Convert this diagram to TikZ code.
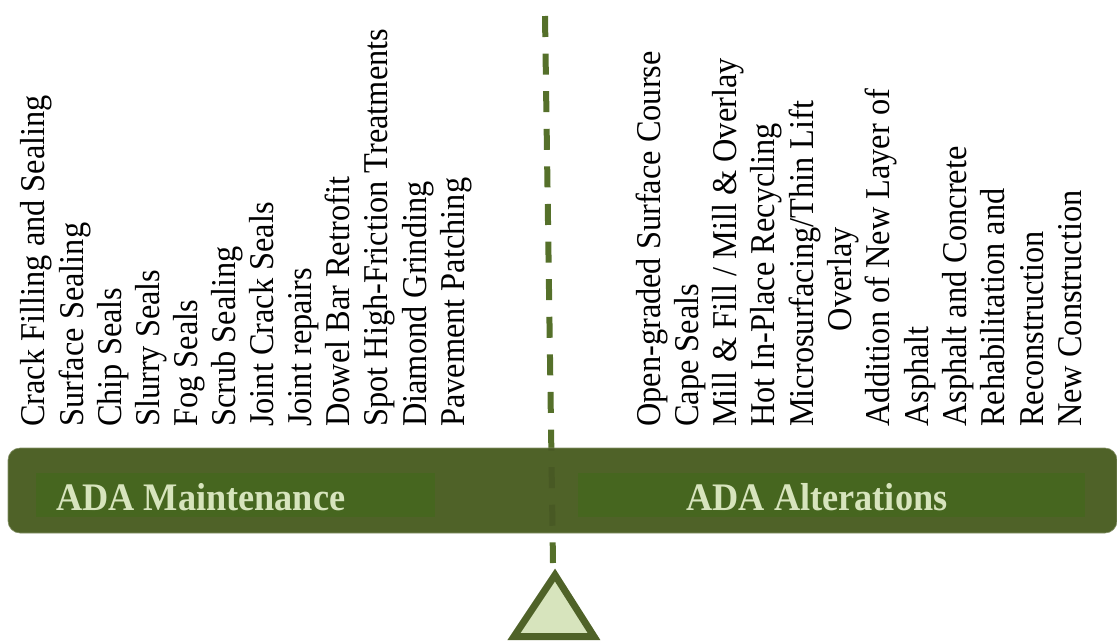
\documentclass[tikz,border=0pt]{standalone}
\usepackage{fontspec}
\setmainfont{Liberation Serif}[FakeStretch=0.93]
\definecolor{barcol}{HTML}{4F6228}
\definecolor{innercol}{HTML}{46661F}
\definecolor{lightcol}{HTML}{D7E4BD}
\definecolor{dashcol}{HTML}{55702A}
\tikzset{
  item/.style={rotate=90, anchor=base west, inner sep=0pt, font=\fontsize{34.8}{40}\selectfont, text=black},
  label/.style={inner sep=0pt, text=lightcol, font=\fontsize{39}{46}\selectfont\bfseries},
}
\begin{document}
\begin{tikzpicture}[x=1pt,y=-1pt]
\useasboundingbox (0,0) rectangle (1117,643);
% dashed line
\coordinate (dtop) at (545,16);
\coordinate (dbot) at (553,563);
\draw[dashcol, line width=6pt, dash pattern=on 21pt off 16.6pt] (dtop) -- (dbot);
% bar
\draw[fill=barcol, draw=barcol!70!white, line width=0.6pt, rounded corners=12pt] (8,448) rectangle (1117,533);
\fill[innercol] (36,473) rectangle (435,517);
\fill[innercol] (578,473) rectangle (1085,517);
\begin{scope}
\clip (8,448) rectangle (1117,533);
\draw[barcol!75!black, opacity=0.35, line width=6pt, dash pattern=on 21pt off 16.6pt] (dtop) -- (dbot);
\end{scope}
\node[label, anchor=base west] (maint) at (56,510) {ADA Maintenance};
\node[label, anchor=base] (alter) at (817,510) {ADA Alterations};
% triangle
\draw[line width=7pt, draw=barcol, fill=lightcol, line join=miter] (555,575) -- (594,636.5) -- (514,636.5) -- cycle;
% left items
\foreach \t [count=\i from 0] in {Crack Filling and Sealing, Surface Sealing, Chip Seals, Slurry Seals, Fog Seals, Scrub Sealing, Joint Crack Seals, Joint repairs, Dowel Bar Retrofit, Spot High-Friction Treatments, Diamond Grinding, Pavement Patching}
  \node[item] (L\i) at ({45+38.1*\i},427) {\t};
% right items
\foreach \t [count=\i from 0] in {Open-graded Surface Course, Cape Seals, Mill \& Fill / Mill \& Overlay, Hot In-Place Recycling, Microsurfacing/Thin Lift, {}, Addition of New Layer of, Asphalt, Asphalt and Concrete, Rehabilitation and, Reconstruction, New Construction}
  \node[item] (R\i) at ({660+38.3*\i},427) {\t};
\node[item, anchor=base] (R5b) at (851,279) {Overlay};
\end{tikzpicture}
\end{document}
